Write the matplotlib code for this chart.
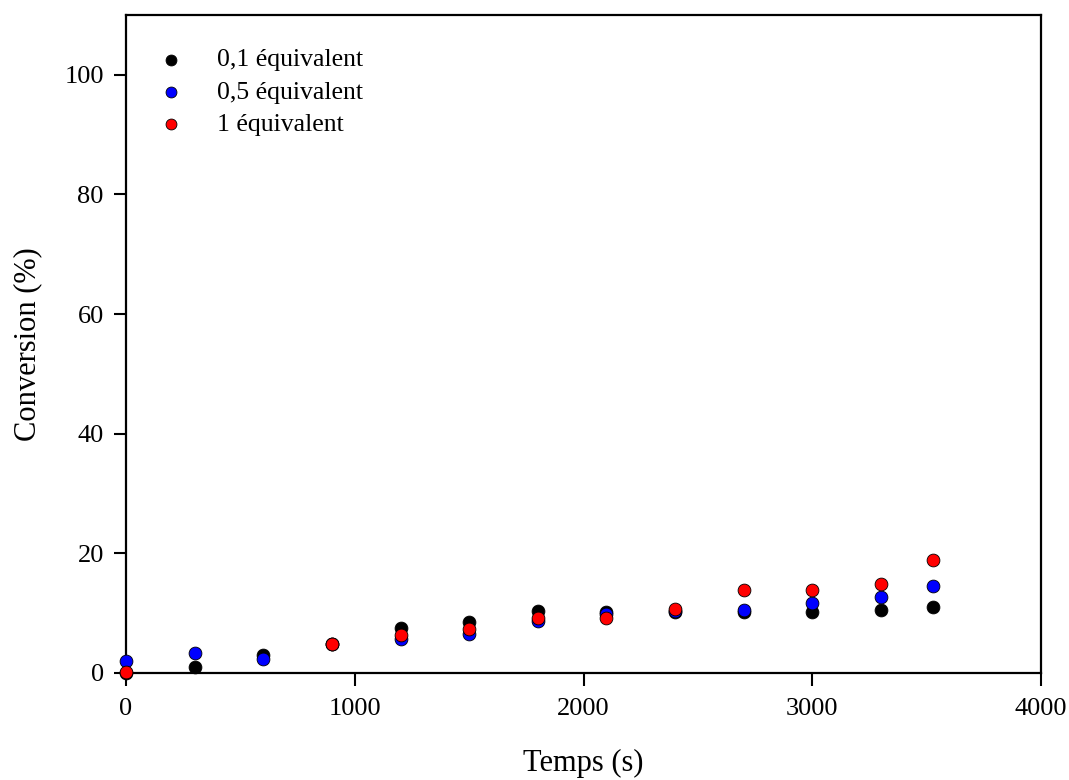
import matplotlib.pyplot as plt

plt.rcParams['font.family'] = ['Liberation Serif', 'DejaVu Serif']

# temps (s) et conversion (%)
t_01 = [0, 300, 600, 900, 1200, 1500, 1800, 2100, 2400, 2700, 3000, 3300, 3530]
conv_01 = [0.0, 1.0, 3.0, 4.8, 7.5, 8.5, 10.3, 10.2, 10.2, 10.2, 10.2, 10.5, 11.0]

t_05 = [0, 300, 600, 900, 1200, 1500, 1800, 2100, 2400, 2700, 3000, 3300, 3530]
conv_05 = [2.0, 3.3, 2.3, 4.8, 5.7, 6.5, 8.7, 9.9, 10.4, 10.6, 11.7, 12.7, 14.6]

t_1 = [0, 900, 1200, 1500, 1800, 2100, 2400, 2700, 3000, 3300, 3530]
conv_1 = [0.2, 4.9, 6.4, 7.3, 9.2, 9.2, 10.7, 13.9, 13.9, 14.9, 18.9]

labels = ['0,1 équivalent', '0,5 équivalent', '1 équivalent']
colors = ['black', 'blue', 'red']

fig = plt.figure(figsize=(10.69, 7.8), dpi=100)
ax = fig.add_axes([0.1179, 0.1372, 0.8559, 0.8436])

for t, c, lab, col in zip([t_01, t_05, t_1], [conv_01, conv_05, conv_1], labels, colors):
    ax.scatter(t, c, s=85, color=col, edgecolors='black', linewidths=0.6,
               label=lab, zorder=3, clip_on=False)

ax.set_xlim(0, 4000)
ax.set_ylim(0, 110)
ax.set_xticks([0, 1000, 2000, 3000, 4000])
ax.set_yticks([0, 20, 40, 60, 80, 100])
ax.tick_params(direction='out', length=9, width=1.5, labelsize=19,
               top=False, right=False)
ax.tick_params(axis='x', pad=9)
ax.tick_params(axis='y', pad=7)
for s in ax.spines.values():
    s.set_linewidth(1.6)

ax.set_xlabel('Temps (s)', fontsize=22, labelpad=21)
ax.set_ylabel('Conversion (%)', fontsize=22, labelpad=16)

ax.legend(loc='upper left', frameon=False, fontsize=18.5, handlelength=1.0,
          handletextpad=1.3, markerscale=0.85, borderaxespad=0.0,
          labelspacing=0.36, scatterpoints=1, bbox_to_anchor=(0.024, 0.965))

fig.savefig('out.png', dpi=100)
